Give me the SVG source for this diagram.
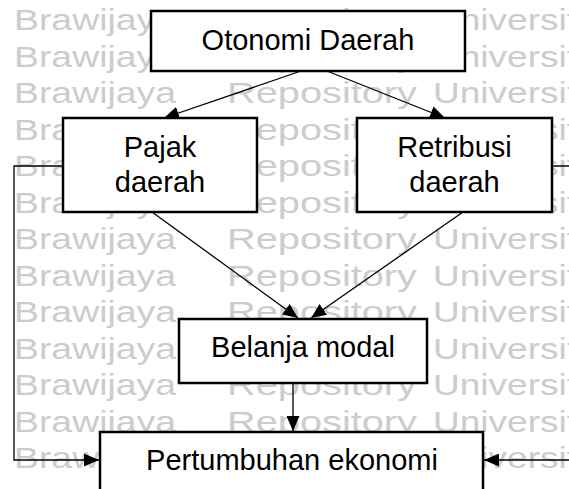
<svg xmlns="http://www.w3.org/2000/svg" xmlns:xlink="http://www.w3.org/1999/xlink" width="569" height="489" viewBox="0 0 569 489">
  <style>
    .wm { font-family: "Liberation Sans", Arial, sans-serif; font-size: 30px; fill: #cccccc; }
    .box { fill: #ffffff; stroke: #000000; stroke-width: 2.5; }
    .label { font-family: "Liberation Sans", Arial, sans-serif; font-size: 29px; fill: #000000; text-anchor: middle; }
    .edge { fill: none; stroke: #000000; stroke-width: 1.3; }
  </style>
  <defs>
    <marker id="arrow" markerUnits="userSpaceOnUse" markerWidth="15" markerHeight="13" refX="15" refY="6.5" orient="auto">
      <path d="M0,0 L15,6.5 L0,13 Z" fill="#000000"/>
    </marker>
    <!-- one line of the repository watermark -->
    <g id="wmrow">
      <text class="wm" x="14" y="0" textLength="162" lengthAdjust="spacingAndGlyphs">Brawijaya</text>
      <text class="wm" x="227" y="0" textLength="190" lengthAdjust="spacingAndGlyphs">Repository</text>
      <text class="wm" x="433" y="0" textLength="144" lengthAdjust="spacingAndGlyphs">Universit</text>
    </g>
  </defs>

  <rect x="0" y="0" width="569" height="489" fill="#ffffff"/>

  <g id="watermark">
    <use xlink:href="#wmrow" y="30"/>
    <use xlink:href="#wmrow" y="66.5"/>
    <use xlink:href="#wmrow" y="103"/>
    <use xlink:href="#wmrow" y="139.5"/>
    <use xlink:href="#wmrow" y="176"/>
    <use xlink:href="#wmrow" y="212.5"/>
    <use xlink:href="#wmrow" y="249"/>
    <use xlink:href="#wmrow" y="285.5"/>
    <use xlink:href="#wmrow" y="322"/>
    <use xlink:href="#wmrow" y="358.5"/>
    <use xlink:href="#wmrow" y="395"/>
    <use xlink:href="#wmrow" y="431.5"/>
    <use xlink:href="#wmrow" y="468"/>
  </g>

  <g id="connectors">
    <line class="edge" x1="301" y1="71" x2="164" y2="118" marker-end="url(#arrow)"/>
    <line class="edge" x1="327" y1="71" x2="445" y2="118" marker-end="url(#arrow)"/>
    <line class="edge" x1="152" y1="212" x2="298" y2="318" marker-end="url(#arrow)"/>
    <line class="edge" x1="463" y1="212" x2="311" y2="318" marker-end="url(#arrow)"/>
    <line class="edge" x1="293" y1="383" x2="293" y2="431" marker-end="url(#arrow)"/>
    <polyline class="edge" points="63,166 14,166 14,460 99,460" marker-end="url(#arrow)"/>
    <polyline class="edge" points="552,166 580,166 580,460 484,460" marker-end="url(#arrow)"/>
  </g>

  <g id="otonomi-daerah">
    <rect class="box" x="151" y="11" width="314" height="60"/>
    <text class="label" x="308" y="50">Otonomi Daerah</text>
  </g>

  <g id="pajak-daerah">
    <rect class="box" x="63" y="118" width="194" height="94"/>
    <text class="label" x="160" y="157">Pajak</text>
    <text class="label" x="160" y="192">daerah</text>
  </g>

  <g id="retribusi-daerah">
    <rect class="box" x="357" y="118" width="195" height="94"/>
    <text class="label" x="454.5" y="157">Retribusi</text>
    <text class="label" x="454.5" y="192">daerah</text>
  </g>

  <g id="belanja-modal">
    <rect class="box" x="179" y="319" width="248" height="64"/>
    <text class="label" x="303" y="357">Belanja modal</text>
  </g>

  <g id="pertumbuhan-ekonomi">
    <rect class="box" x="100" y="432" width="383" height="64"/>
    <text class="label" x="292" y="470">Pertumbuhan ekonomi</text>
  </g>
</svg>
